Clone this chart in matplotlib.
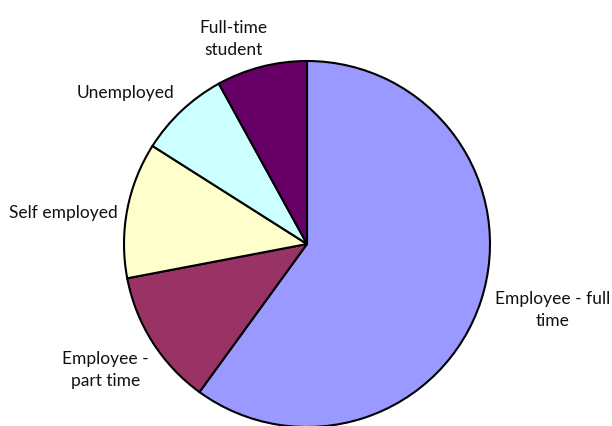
import matplotlib
matplotlib.use("Agg")
import matplotlib.pyplot as plt
import numpy as np

# employment status shares (%)
categories = ["Employee - full\ntime", "Employee -\npart time", "Self employed",
              "Unemployed", "Full-time\nstudent"]
shares = [60, 12, 12, 8, 8]
colors = ["#9999FF", "#993366", "#FFFFCC", "#CCFFFF", "#660066"]

# label placement (radius factor, angle in degrees)
label_r = [1.387, 1.297, 1.344, 1.29, 1.191]
label_ang = [345, 212, 172.8, 140.3, 109.8]

plt.rcParams['font.family'] = ['Lato', 'DejaVu Sans']

fig = plt.figure(figsize=(6.12, 4.26), dpi=100)
ax = fig.add_axes([0, 0, 1, 1])
ax.pie(shares, colors=colors, startangle=90, counterclock=False,
       wedgeprops=dict(edgecolor='black', linewidth=1.5))

for name, r, a in zip(categories, label_r, label_ang):
    t = np.deg2rad(a)
    ax.text(r * np.cos(t), r * np.sin(t), name, ha='center', va='center',
            fontsize=12.5, linespacing=1.45, color='#111111')

ax.set_aspect('auto')
ax.set_xlim(-307 / 183, (612 - 307) / 183)
ax.set_ylim(-(426 - 244) / 183, 244 / 183)
ax.axis('off')

fig.savefig("out.png", dpi=100)
